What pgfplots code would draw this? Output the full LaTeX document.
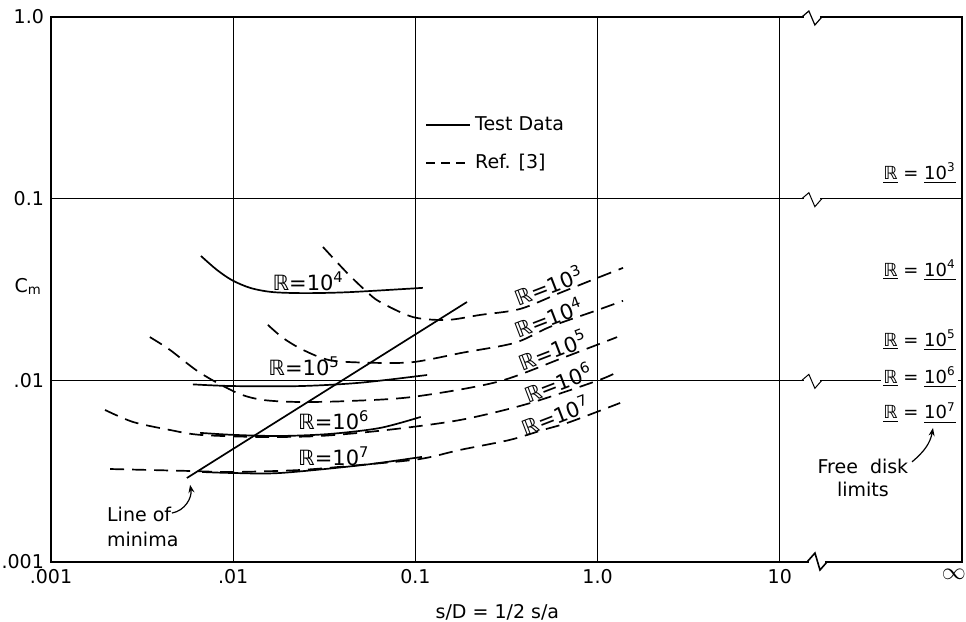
\documentclass[border=0pt]{standalone}
\usepackage{pgfplots}
\pgfplotsset{compat=1.18}
\usepackage{fontspec}
\setmainfont{DejaVu Sans}
\usetikzlibrary{arrows.meta}
\tikzset{curvelab/.style={font=\fontsize{10.5}{12}\selectfont, inner sep=1pt},
    disklab/.style={fill=white, inner sep=1pt, font=\fontsize{9}{11}\selectfont}}

\begin{document}
\begin{tikzpicture}[font=\fontsize{9.5}{11.5}\selectfont]
\begin{axis}[
    at={(0,0)}, anchor=south west,
    scale only axis,
    width=455.5pt, height=272.5pt,
    xmode=log, ymode=log,
    xmin=0.001, xmax=100, ymin=0.001, ymax=1,
    xtick={0.001,0.01,0.1,1,10,100},
    xticklabels={.001,.01,0.1,1.0,10,\makebox[0pt][c]{\fontsize{12}{12}\selectfont$\infty$\hspace*{8pt}}},
    ytick={0.001,0.01,0.1,1},
    yticklabels={.001,.01,0.1,1.0},
    xminorticks=false, yminorticks=false,
    major tick length=0pt,
    grid=major,
    major grid style={black, line width=0.5pt},
    axis line style={line width=0.8pt},
    clip=false,
    /pgf/number format/assume math mode=true,
    xlabel={s/D = 1/2 s/a},
    ylabel={C\textsubscript{m}},
    ylabel style={rotate=-90, at={(axis description cs:-0.025,0.505)}, anchor=center},
    xlabel style={at={(axis description cs:0.49,0)}, anchor=center, yshift=-25pt},
    legend style={at={(axis cs:0.113,0.30)}, anchor=north west, draw=none, fill=none,
        inner sep=0pt, row sep=6.5pt},
    legend cell align=left,
    legend image code/.code={\draw[#1] (0pt,0pt) -- (22pt,0pt);},
    every axis plot/.append style={black, line width=0.85pt},
]
% legend
\addlegendimage{black, line width=0.85pt}
\addlegendentry{Test Data}
\addlegendimage{black, line width=0.85pt, dash pattern=on 4.5pt off 3pt}
\addlegendentry{Ref. [3]}

% test data (solid)
\addplot[smooth, forget plot] coordinates {
    (0.00665,0.0484) (0.00815,0.0405) (0.0099,0.0355) (0.0125,0.0322)
    (0.0165,0.0306) (0.0250,0.0302) (0.0438,0.0306) (0.110,0.0323)
};
\addplot[smooth, forget plot] coordinates {
    (0.00601,0.0095) (0.0100,0.0093) (0.0233,0.0093) (0.0497,0.0097) (0.116,0.0107)
};
\addplot[smooth, forget plot] coordinates {
    (0.00658,0.00514) (0.0100,0.00501) (0.0181,0.00494) (0.0340,0.00507)
    (0.0640,0.00547) (0.107,0.00629)
};
\addplot[smooth, forget plot] coordinates {
    (0.00675,0.00313) (0.0100,0.00309) (0.0181,0.00309) (0.0515,0.00342) (0.1086,0.00379)
};
% line of minima
\addplot[forget plot] coordinates {(0.00557,0.00290) (0.192,0.0270)};

% Ref. [3] (dashed)
\addplot[smooth, forget plot, dash pattern=on 7pt off 4pt] coordinates {
    (0.0311,0.0542) (0.0422,0.0390) (0.0542,0.0307) (0.0640,0.0270) (0.097,0.0223)
    (0.149,0.0215) (0.226,0.0229) (0.375,0.0247) (0.622,0.0303) (1.03,0.0371) (1.38,0.0416)
};
\addplot[smooth, forget plot, dash pattern=on 7pt off 4pt] coordinates {
    (0.0155,0.0202) (0.0188,0.0171) (0.0242,0.0147) (0.0340,0.0129) (0.0564,0.0125)
    (0.097,0.0126) (0.182,0.0142) (0.352,0.0161) (0.548,0.0197) (0.968,0.0241) (1.38,0.0274)
};
\addplot[smooth, forget plot, dash pattern=on 7pt off 4pt] coordinates {
    (0.00349,0.0173) (0.0045,0.0147) (0.00658,0.0110) (0.0105,0.00853) (0.0146,0.0078)
    (0.0233,0.0076) (0.0438,0.0077) (0.097,0.00811) (0.281,0.0098) (0.645,0.0133) (1.28,0.0173)
};
\addplot[smooth, forget plot, dash pattern=on 7pt off 4pt] coordinates {
    (0.00198,0.00687) (0.00282,0.0059) (0.0045,0.00533) (0.00658,0.00501) (0.0140,0.00488)
    (0.0299,0.00494) (0.0698,0.00533) (0.176,0.00605) (0.41,0.00741) (0.99,0.00993) (1.28,0.0111)
};
\addplot[smooth, forget plot, dash pattern=on 7pt off 4pt] coordinates {
    (0.00211,0.00325) (0.00349,0.00321) (0.00579,0.00317) (0.0100,0.00313) (0.0233,0.00321)
    (0.0497,0.00342) (0.106,0.00369) (0.176,0.00414) (0.330,0.0047) (0.501,0.00533)
    (0.706,0.0059) (1.33,0.00751)
};

% labels on the test curves
\node[curvelab] at (axis cs:0.0258,0.0352) {ℝ=10\textsuperscript{4}};
\node[curvelab] at (axis cs:0.0245,0.0119) {ℝ=10\textsuperscript{5}};
\node[curvelab] at (axis cs:0.0357,0.00605) {ℝ=10\textsuperscript{6}};
\node[curvelab] at (axis cs:0.0357,0.00384) {ℝ=10\textsuperscript{7}};
% labels on the Ref. [3] curves
\node[curvelab, rotate=21, anchor=south] at (axis cs:0.57,0.0290) {ℝ=10\textsuperscript{3}};
\node[curvelab, rotate=21, anchor=south] at (axis cs:0.57,0.0194) {ℝ=10\textsuperscript{4}};
\node[curvelab, rotate=21, anchor=south] at (axis cs:0.60,0.0128) {ℝ=10\textsuperscript{5}};
\node[curvelab, rotate=21, anchor=south] at (axis cs:0.64,0.0085) {ℝ=10\textsuperscript{6}};
\node[curvelab, rotate=21, anchor=south] at (axis cs:0.62,0.0056) {ℝ=10\textsuperscript{7}};

% free disk limits
\node[disklab] at (axis cs:58.5,0.138) {\underline{ℝ} = \underline{10\textsuperscript{3}}};
\node[disklab] at (axis cs:58.5,0.0405) {\underline{ℝ} = \underline{10\textsuperscript{4}}};
\node[disklab] at (axis cs:58.5,0.01668) {\underline{ℝ} = \underline{10\textsuperscript{5}}};
\node[disklab] at (axis cs:58.5,0.01044) {\underline{ℝ} = \underline{10\textsuperscript{6}}};
\node[disklab] at (axis cs:58.5,0.00662) {\underline{ℝ} = \underline{10\textsuperscript{7}}};
\node[align=center] at (axis cs:28.6,0.0029) {Free\ \ disk\\limits};
\draw[-{Stealth[length=4pt,width=3pt]}, line width=0.6pt]
    (axis cs:53.2,0.00356) to[out=40,in=-100] (axis cs:69.3,0.00547);

% line of minima note
\node[align=left, anchor=west, font=\fontsize{9.5}{12.5}\selectfont] at (axis cs:0.00186,0.00156) {Line of\\minima};
\draw[-{Stealth[length=4pt,width=3pt]}, line width=0.6pt]
    (axis cs:0.00461,0.00186) to[out=10,in=-80] (axis cs:0.0058,0.00266);

% axis breaks
\draw[white, line width=3pt] ([xshift=-4pt]axis cs:15,1) -- ([xshift=4pt]axis cs:15,1);
\draw[line width=0.6pt] ([xshift=-5pt]axis cs:15,1) -- ([xshift=-1.5pt,yshift=3pt]axis cs:15,1)
    -- ([xshift=1.5pt,yshift=-4pt]axis cs:15,1) -- ([xshift=5pt]axis cs:15,1);
\draw[white, line width=3pt] ([xshift=-4pt]axis cs:15,0.1) -- ([xshift=4pt]axis cs:15,0.1);
\draw[line width=0.5pt] ([xshift=-5pt]axis cs:15,0.1) -- ([xshift=-1.5pt,yshift=3pt]axis cs:15,0.1)
    -- ([xshift=1.5pt,yshift=-4pt]axis cs:15,0.1) -- ([xshift=5pt]axis cs:15,0.1);
\draw[white, line width=3pt] ([xshift=-4pt]axis cs:15,0.01) -- ([xshift=4pt]axis cs:15,0.01);
\draw[line width=0.5pt] ([xshift=-5pt]axis cs:15,0.01) -- ([xshift=-1.5pt,yshift=3pt]axis cs:15,0.01)
    -- ([xshift=1.5pt,yshift=-4pt]axis cs:15,0.01) -- ([xshift=5pt]axis cs:15,0.01);
\draw[white, line width=3pt] ([xshift=-4pt]axis cs:16,0.001) -- ([xshift=4pt]axis cs:16,0.001);
\draw[line width=0.8pt] ([xshift=-5pt]axis cs:16,0.001) -- ([xshift=-1pt,yshift=4.5pt]axis cs:16,0.001)
    -- ([xshift=1.5pt,yshift=-4pt]axis cs:16,0.001) -- ([xshift=5pt]axis cs:16,0.001);
\end{axis}
\pgfresetboundingbox
\path[use as bounding box] (-25.5pt,-30pt) rectangle (457.5pt,281pt);
\end{tikzpicture}
\end{document}
